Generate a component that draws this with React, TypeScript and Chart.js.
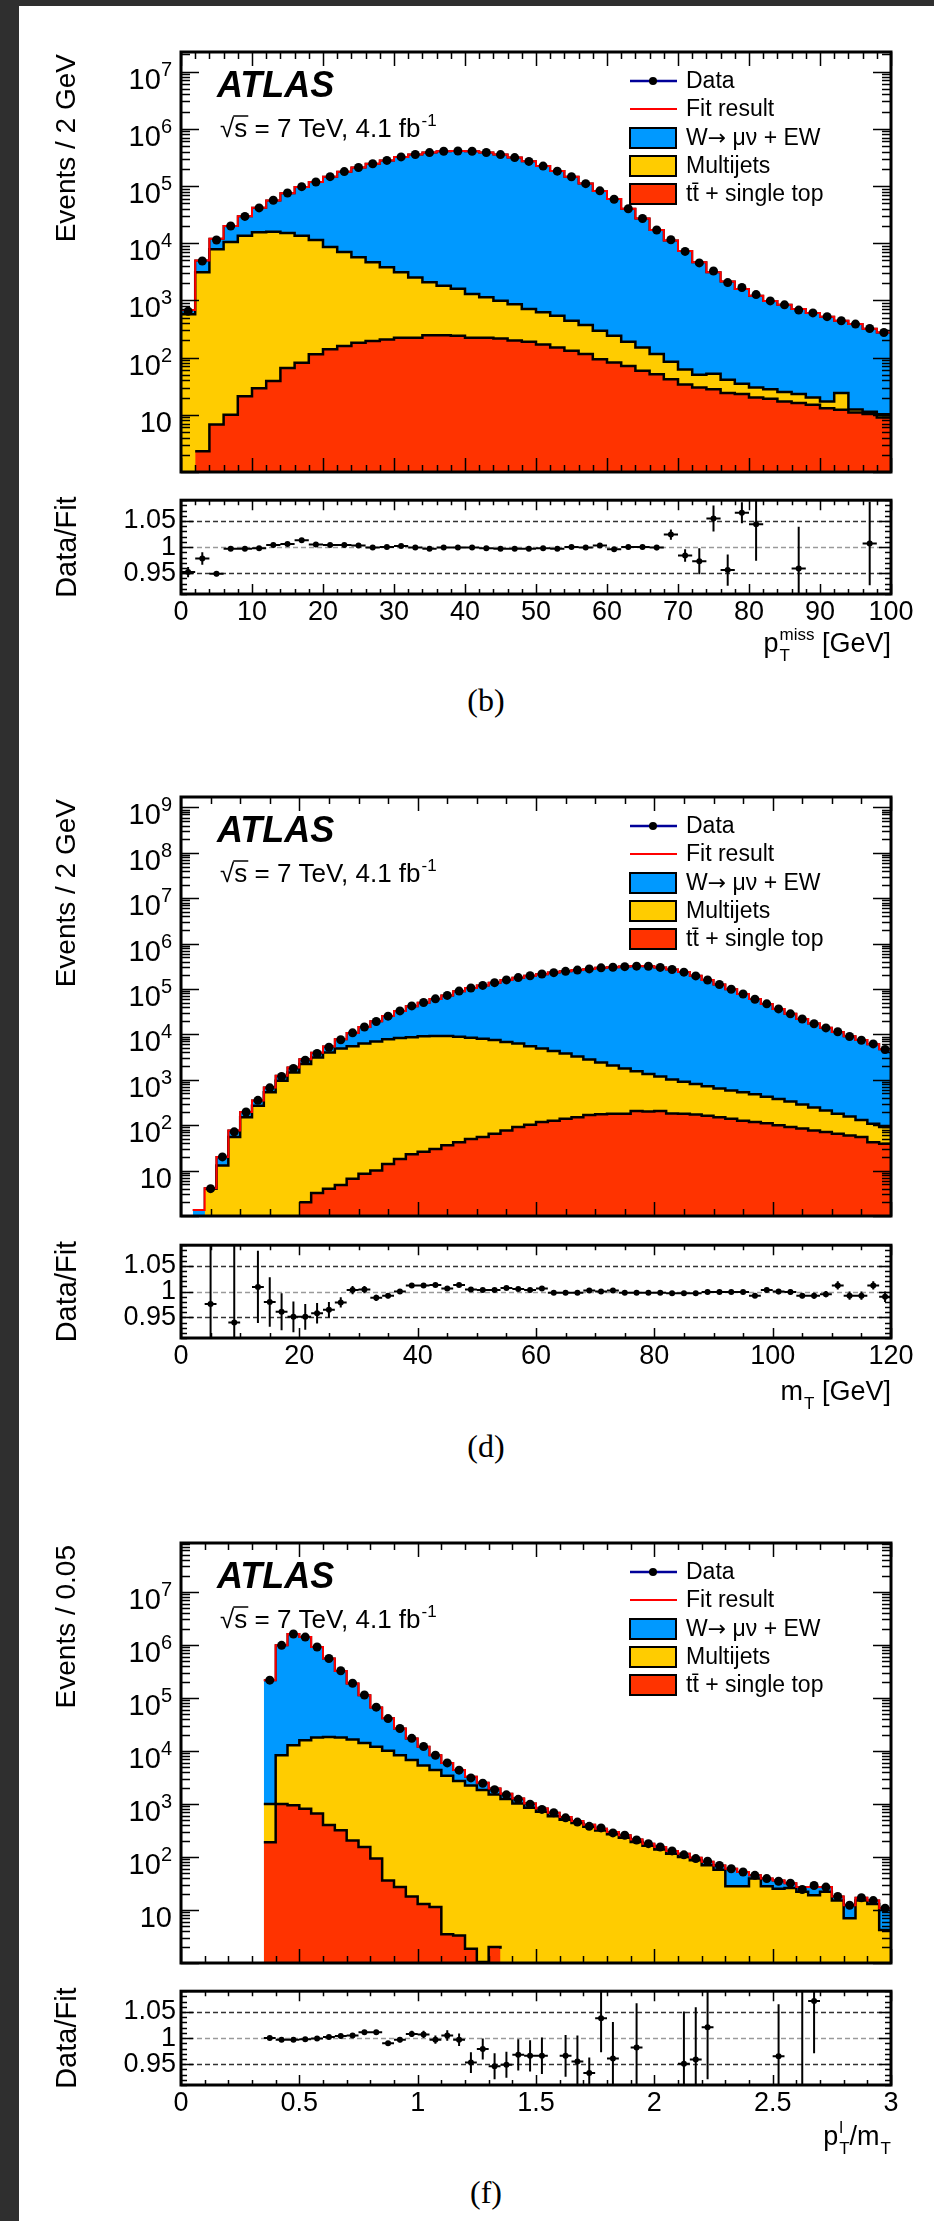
import React, { useEffect, useRef } from 'react';
import { Chart, registerables } from 'chart.js';

Chart.register(...registerables);

const SANS = '"Liberation Sans", Arial, Helvetica, sans-serif';
const SERIF = '"Liberation Serif", "Times New Roman", serif';
const W_BLUE = '#0099ff';
const MJ_YELLOW = '#ffcc00';
const TOP_RED = '#ff3300';
const FIT_RED = '#ff0000';
const DATA_NAVY = '#000099';

// ---------------- panel (b): missing transverse momentum ----------------
const bXTicks = [0, 10, 20, 30, 40, 50, 60, 70, 80, 90, 100];
const bYDecades = [1, 2, 3, 4, 5, 6, 7];
// stacked heights: total (W + multijet + top), multijet + top, top
const bTotal = [680, 5000, 12000, 20000, 29500, 41500, 56000, 75000, 96000, 117000,
  145000, 178000, 210000, 245000, 280000, 322000, 355000, 385000, 405000, 410000,
  405000, 385000, 355000, 315000, 270000, 223000, 182000, 145000, 110000, 82000,
  59000, 40000, 27000, 17000, 11200, 7300, 4650, 3100, 2140, 1580,
  1210, 980, 835, 705, 605, 520, 440, 385, 320, 275];
const bMultijetStack = [575, 3100, 7800, 10500, 13500, 15500, 15800, 15000, 13500, 11400,
  8600, 7000, 5700, 4650, 3800, 3100, 2520, 2070, 1810, 1590,
  1300, 1130, 985, 860, 710, 620, 540, 440, 370, 295,
  240, 190, 150, 115, 85, 62, 50, 52, 41, 35,
  30, 28, 25, 23, 20, 17, 24, 12.4, 11.3, 10.2];
const bTop = [0, 2.3, 6.8, 10, 21, 29, 39, 66, 81, 114,
  140, 160, 182, 195, 208, 222, 222, 245, 245, 240,
  222, 222, 215, 200, 190, 170, 150, 132, 115, 94,
  82, 71, 59, 51, 42, 34, 30, 28, 24, 23,
  20, 19, 17, 16, 15, 13, 12.3, 11, 10.3, 9];
const bRatio = [0.952, 0.978, 0.949, 0.997, 0.997, 0.998, 1.004, 1.006, 1.013, 1.005,
  1.004, 1.004, 1.003, 0.999, 1.000, 1.002, 0.999, 0.997, 0.999, 0.999,
  0.999, 0.998, 0.997, 0.997, 0.997, 0.998, 0.997, 1.000, 0.999, 1.003,
  0.996, 1.000, 1.000, 0.999, 1.024, 0.984, 0.973, 1.055, 0.956, 1.066,
  1.044, null, null, 0.959, null, null, null, null, 1.007, null];
const bRatioErr = [0.01, 0.012, 0.005, 0.003, 0.003, 0.002, 0.002, 0.002, 0.002, 0.002,
  0.002, 0.002, 0.002, 0.002, 0.002, 0.002, 0.002, 0.002, 0.002, 0.002,
  0.002, 0.002, 0.002, 0.002, 0.002, 0.002, 0.002, 0.002, 0.002, 0.003,
  0.003, 0.004, 0.004, 0.005, 0.01, 0.012, 0.025, 0.025, 0.03, 0.02,
  0.07, 0, 0, 0.08, 0, 0, 0, 0, 0.08, 0];

// ---------------- panel (d): transverse mass ----------------
const dXTicks = [0, 20, 40, 60, 80, 100, 120];
const dYDecades = [1, 2, 3, 4, 5, 6, 7, 8, 9];
const dTotal = [0, 1.35, 4.1, 20, 76, 195, 350, 680, 1230, 1870,
  2830, 3960, 5400, 7800, 10800, 14500, 19500, 25500, 33000, 42000,
  50000, 60000, 72000, 89000, 105000, 120000, 138000, 158000, 178000, 196000,
  213000, 230000, 246000, 262000, 277000, 293000, 302000, 312000, 320000, 318000,
  300000, 270000, 236000, 195000, 158000, 126000, 99000, 78000, 60000, 47000,
  36500, 28400, 22000, 17300, 14000, 11300, 9100, 7500, 6100, 4700];
const dMultijetStack = [0, 0, 4, 13, 55, 150, 270, 530, 950, 1450,
  2230, 3100, 4000, 4900, 5500, 6300, 7000, 7800, 8300, 8700,
  9100, 9200, 9200, 8900, 8500, 8000, 7500, 6800, 6300, 5500,
  4900, 4300, 3800, 3250, 2800, 2400, 2060, 1780, 1550, 1350,
  1180, 1020, 910, 810, 720, 645, 585, 530, 480, 425,
  380, 333, 285, 245, 210, 180, 155, 131, 108, 91];
const dTop = [0, 0, 0, 0, 0, 0, 0, 0, 0, 0,
  2, 3.2, 4, 4.8, 6.6, 8.5, 10, 14, 18, 23,
  26, 30, 36, 42, 50, 55, 65, 76, 91, 102,
  117, 126, 138, 150, 168, 175, 178, 180, 205, 200,
  205, 182, 178, 172, 162, 150, 138, 126, 117, 110,
  100, 91, 85, 76, 71, 65, 59, 55, 42, 39];
const dRatio = [null, null, 0.976, null, 0.940, null, 1.009, 0.980, 0.961, 0.951,
  0.951, 0.958, 0.965, 0.979, 1.003, 1.004, 0.988, 0.992, 1.000, 1.012,
  1.012, 1.013, 1.006, 1.013, 1.004, 1.003, 1.003, 1.007, 1.005, 1.003,
  1.006, 0.998, 0.998, 0.998, 1.002, 1.000, 1.002, 0.998, 0.998, 0.998,
  0.998, 0.997, 0.997, 0.997, 0.999, 0.999, 0.999, 0.999, 0.992, 1.003,
  1.000, 0.999, 0.992, 0.992, 0.995, 1.012, 0.992, 0.992, 1.012, 0.990];
const dRatioErr = [0, 0, 0.3, 0, 0.3, 0, 0.07, 0.048, 0.036, 0.03,
  0.025, 0.02, 0.015, 0.01, 0.008, 0.007, 0.006, 0.005, 0.004, 0.004,
  0.003, 0.003, 0.003, 0.003, 0.003, 0.003, 0.003, 0.003, 0.003, 0.003,
  0.003, 0.003, 0.003, 0.003, 0.003, 0.003, 0.003, 0.003, 0.003, 0.003,
  0.003, 0.003, 0.003, 0.003, 0.003, 0.003, 0.003, 0.004, 0.004, 0.004,
  0.005, 0.005, 0.005, 0.006, 0.006, 0.008, 0.008, 0.008, 0.008, 0.01];

// ---------------- panel (f): lepton pT over mT ----------------
const fXTicks = [0, 0.5, 1, 1.5, 2, 2.5, 3];
const fYDecades = [1, 2, 3, 4, 5, 6, 7];
const fTotal = [0, 0, 0, 0, 0, 0, 0, 215000, 980000, 1600000,
  1400000, 910000, 550000, 322000, 187000, 112000, 66000, 41000, 26500, 17100,
  12000, 8300, 5900, 4340, 3240, 2500, 1960, 1560, 1260, 1020,
  815, 680, 565, 475, 405, 340, 295, 256, 212, 178,
  154, 130, 115, 97, 81, 69, 60, 52, 45, 39,
  36, 32, 27, 27, 27, 18, 12.3, 17, 15, 10.8];
const fMultijetStack = [0, 0, 0, 0, 0, 0, 0, 1000, 8300, 12800,
  15800, 17800, 18300, 17800, 16300, 14000, 12000, 10000, 8300, 6700,
  5300, 4340, 3400, 2700, 2220, 1820, 1510, 1240, 1020, 850,
  710, 585, 500, 435, 370, 315, 268, 230, 191, 162,
  138, 115, 100, 87, 70, 57, 28, 28, 39, 28,
  25, 26, 22, 19, 22, 15, 7, 15, 13, 4.2];
const fTop = [0, 0, 0, 0, 0, 0, 0, 190, 1000, 940,
  810, 660, 400, 318, 205, 154, 93, 36, 27, 18,
  13, 11.4, 3.5, 3.3, 1.85, 1.05, 2, 1.85, 0, 0,
  0, 0, 0, 0, 0, 0, 0, 0, 0, 0,
  0, 0, 0, 0, 0, 0, 0, 0, 0, 0,
  0, 0, 0, 0, 0, 0, 0, 0, 0, 0];
const fRatio = [null, null, null, null, null, null, null, 1.000, 0.997, 0.997,
  0.998, 0.999, 1.002, 1.004, 1.005, 1.011, 1.011, 0.990, 0.997, 1.008,
  1.007, 0.997, 1.005, 0.997, 0.953, 0.979, 0.946, 0.949, 0.968, 0.966,
  0.966, null, 0.966, 0.955, 0.933, 1.038, 0.961, null, 0.982, null,
  null, null, 0.951, 0.959, 1.021, null, null, null, null, null,
  0.965, null, 0.900, 1.071, null, null, null, null, null, null];
const fRatioErr = [0, 0, 0, 0, 0, 0, 0, 0.002, 0.002, 0.002,
  0.002, 0.002, 0.002, 0.003, 0.003, 0.003, 0.004, 0.004, 0.005, 0.006,
  0.007, 0.008, 0.01, 0.012, 0.02, 0.02, 0.025, 0.025, 0.03, 0.03,
  0.035, 0, 0.04, 0.05, 0.03, 0.065, 0.07, 0, 0.085, 0,
  0, 0, 0.1, 0.1, 0.1, 0, 0, 0, 0, 0,
  0.1, 0, 0.2, 0.1, 0, 0, 0, 0, 0, 0];

const ratioYTicks = [0.95, 1, 1.05];
const legendLabels = ['Data', 'Fit result', 'W\u2192 \u03BC\u03BD + EW', 'Multijets', 'tt\u0304 + single top'];

// ---------------- layout ----------------
const CANVAS_L = 19;
const CANVAS_W = 915;
const PAD_L = 162; // frame left at page x 181
const PAD_R = 43; // frame right at page x 891
const MAIN_PAD_TOP = 40;
const RATIO_AXIS_H = 80;

type Seg = { t: string; sub?: string; sup?: string };
type Spec = {
  id: string; caption: string; captionY: number;
  mainTop: number; mainBottom: number; ratioTop: number; ratioBottom: number;
  xMin: number; xMax: number; binW: number; xMajor: number; xMinor: number; xTicks: number[];
  yMin: number; yMax: number; yDecades: number[];
  total: number[]; multi: number[]; top: number[];
  ratio: (number | null)[]; ratioErr: number[];
  yTitle: string; xTitle: Seg[]; xTitleDy: number;
};

const specs: Spec[] = [
  {
    id: 'b', caption: '(b)', captionY: 700,
    mainTop: 52, mainBottom: 472, ratioTop: 483, ratioBottom: 594,
    xMin: 0, xMax: 100, binW: 2, xMajor: 10, xMinor: 2, xTicks: bXTicks,
    yMin: 1, yMax: 2.2e7, yDecades: bYDecades,
    total: bTotal, multi: bMultijetStack, top: bTop, ratio: bRatio, ratioErr: bRatioErr,
    yTitle: 'Events / 2 GeV', xTitle: [{ t: 'p', sub: 'T', sup: 'miss' }, { t: ' [GeV]' }], xTitleDy: 58,
  },
  {
    id: 'd', caption: '(d)', captionY: 1446,
    mainTop: 797, mainBottom: 1216, ratioTop: 1228, ratioBottom: 1338,
    xMin: 0, xMax: 120, binW: 2, xMajor: 20, xMinor: 5, xTicks: dXTicks,
    yMin: 1, yMax: 1.7e9, yDecades: dYDecades,
    total: dTotal, multi: dMultijetStack, top: dTop, ratio: dRatio, ratioErr: dRatioErr,
    yTitle: 'Events / 2 GeV', xTitle: [{ t: 'm', sub: 'T' }, { t: ' [GeV]' }], xTitleDy: 62,
  },
  {
    id: 'f', caption: '(f)', captionY: 2192,
    mainTop: 1543, mainBottom: 1963, ratioTop: 1974, ratioBottom: 2085,
    xMin: 0, xMax: 3, binW: 0.05, xMajor: 0.5, xMinor: 0.1, xTicks: fXTicks,
    yMin: 1, yMax: 8.3e7, yDecades: fYDecades,
    total: fTotal, multi: fMultijetStack, top: fTop, ratio: fRatio, ratioErr: fRatioErr,
    yTitle: 'Events / 0.05', xTitle: [{ t: 'p', sub: 'T', sup: 'l' }, { t: '/m', sub: 'T' }], xTitleDy: 60,
  },
];

function makeEdges(min: number, w: number, n: number): number[] {
  const out: number[] = [];
  for (let i = 0; i <= n; i++) out.push(Math.round((min + i * w) * 1e6) / 1e6);
  return out;
}
function stepPoints(edges: number[], vals: number[]) {
  const pts = vals.map((v, i) => ({ x: edges[i], y: v }));
  pts.push({ x: edges[vals.length], y: vals[vals.length - 1] });
  return pts;
}

function drawXTicks(ctx: any, xs: any, a: any, spec: Spec, major: number, minor: number) {
  const nx = Math.round((spec.xMax - spec.xMin) / spec.xMinor);
  const per = Math.round(spec.xMajor / spec.xMinor);
  for (let i = 0; i <= nx; i++) {
    const px = Math.round(xs.getPixelForValue(spec.xMin + i * spec.xMinor)) + 0.5;
    const len = i % per === 0 ? major : minor;
    ctx.moveTo(px, a.bottom); ctx.lineTo(px, a.bottom - len);
    ctx.moveTo(px, a.top); ctx.lineTo(px, a.top + len);
  }
}

function drawRich(ctx: any, segs: Seg[], xRight: number, baseline: number, size: number) {
  const small = Math.round(size * 0.62);
  const w = (s: Seg) => {
    ctx.font = `${size}px ${SANS}`;
    const main = ctx.measureText(s.t).width;
    ctx.font = `${small}px ${SANS}`;
    const ws = Math.max(s.sub ? ctx.measureText(s.sub).width : 0, s.sup ? ctx.measureText(s.sup).width : 0);
    return main + (ws ? ws + 1 : 0);
  };
  let x = xRight - segs.reduce((acc, s) => acc + w(s), 0);
  ctx.textAlign = 'left';
  ctx.textBaseline = 'alphabetic';
  for (const s of segs) {
    ctx.font = `${size}px ${SANS}`;
    ctx.fillText(s.t, x, baseline);
    x += ctx.measureText(s.t).width;
    ctx.font = `${small}px ${SANS}`;
    let ws = 0;
    if (s.sup) { ctx.fillText(s.sup, x + 1, baseline - size * 0.45); ws = Math.max(ws, ctx.measureText(s.sup).width); }
    if (s.sub) { ctx.fillText(s.sub, x + 1, baseline + size * 0.32); ws = Math.max(ws, ctx.measureText(s.sub).width); }
    if (ws) x += ws + 1;
  }
}

function drawLegendText(ctx: any, label: string, x: number, y: number) {
  ctx.textBaseline = 'middle';
  ctx.textAlign = 'left';
  const arrow = label.indexOf('\u2192');
  if (arrow < 0) {
    ctx.font = `23px ${SANS}`;
    ctx.fillText(label, x, y);
    return;
  }
  const head = label.slice(0, arrow);
  const tail = label.slice(arrow + 1);
  ctx.font = `23px ${SANS}`;
  ctx.fillText(head, x, y);
  let cx = x + ctx.measureText(head).width;
  ctx.font = `22px "DejaVu Sans", ${SANS}`;
  ctx.fillText('\u2192', cx, y);
  cx += ctx.measureText('\u2192').width;
  ctx.font = `23px ${SANS}`;
  ctx.fillText(tail, cx, y);
}

function mainDecor(spec: Spec) {
  return {
    id: 'mainDecor' + spec.id,
    afterDatasetsDraw(chart: any) {
      const { ctx, chartArea: a } = chart;
      const xs = chart.scales.x;
      const ys = chart.scales.y;
      ctx.save();
      ctx.strokeStyle = '#000';
      ctx.lineWidth = 1.5;
      ctx.beginPath();
      drawXTicks(ctx, xs, a, spec, 14, 7);
      const e0 = Math.floor(Math.log10(spec.yMin));
      const e1 = Math.ceil(Math.log10(spec.yMax));
      for (let e = e0; e <= e1; e++) {
        for (let k = 1; k <= 9; k++) {
          const v = k * Math.pow(10, e);
          if (v < spec.yMin || v > spec.yMax) continue;
          const py = Math.round(ys.getPixelForValue(v)) + 0.5;
          const len = k === 1 ? 18 : 9;
          ctx.moveTo(a.left, py); ctx.lineTo(a.left + len, py);
          ctx.moveTo(a.right, py); ctx.lineTo(a.right - len, py);
        }
      }
      ctx.stroke();
      ctx.lineWidth = 3;
      ctx.strokeRect(a.left, a.top, a.right - a.left, a.bottom - a.top);

      // y tick labels 10^n
      ctx.fillStyle = '#000';
      ctx.textBaseline = 'alphabetic';
      ctx.textAlign = 'left';
      for (const e of spec.yDecades) {
        const py = ys.getPixelForValue(Math.pow(10, e));
        ctx.font = `29px ${SANS}`;
        const wb = ctx.measureText('10').width;
        let we = 0;
        const ex = e > 1 ? String(e) : '';
        if (ex) { ctx.font = `20px ${SANS}`; we = ctx.measureText(ex).width; }
        const xr = a.left - 9;
        const x0 = xr - wb - we;
        ctx.font = `29px ${SANS}`;
        ctx.fillText('10', x0, py + 17);
        if (ex) { ctx.font = `20px ${SANS}`; ctx.fillText(ex, x0 + wb, py + 4); }
      }

      // y title
      ctx.save();
      ctx.translate(48, a.top + 2);
      ctx.rotate(-Math.PI / 2);
      ctx.font = `28px ${SANS}`;
      ctx.textAlign = 'right';
      ctx.textBaseline = 'middle';
      ctx.fillText(spec.yTitle, 0, 0);
      ctx.restore();

      // ATLAS label
      ctx.textAlign = 'left';
      ctx.textBaseline = 'alphabetic';
      ctx.font = `italic bold 36px ${SANS}`;
      ctx.fillText('ATLAS', a.left + 36, a.top + 45);
      ctx.font = `26px ${SANS}`;
      let tx = a.left + 39;
      const tb = a.top + 85;
      ctx.fillText('\u221A', tx, tb);
      tx += ctx.measureText('\u221A').width;
      const sw = ctx.measureText('s').width;
      ctx.fillText('s', tx, tb);
      ctx.lineWidth = 1.5;
      ctx.beginPath(); ctx.moveTo(tx - 1, tb - 21); ctx.lineTo(tx + sw + 1, tb - 21); ctx.stroke();
      tx += sw;
      const rest = ' = 7 TeV, 4.1 fb';
      ctx.fillText(rest, tx, tb);
      tx += ctx.measureText(rest).width;
      ctx.font = `17px ${SANS}`;
      ctx.fillText('-1', tx + 1, tb - 11);

      // legend
      const rows = [29, 57, 86, 114, 142];
      const lx0 = a.left + 449;
      const lx1 = a.left + 495;
      const fills = [null, null, W_BLUE, MJ_YELLOW, TOP_RED];
      rows.forEach((dy, i) => {
        const cy = a.top + dy;
        if (i === 0) {
          ctx.strokeStyle = DATA_NAVY; ctx.lineWidth = 2.5;
          ctx.beginPath(); ctx.moveTo(lx0, cy); ctx.lineTo(lx1 + 1, cy); ctx.stroke();
          ctx.fillStyle = '#000';
          ctx.beginPath(); ctx.arc((lx0 + lx1) / 2, cy, 4, 0, Math.PI * 2); ctx.fill();
        } else if (i === 1) {
          ctx.strokeStyle = FIT_RED; ctx.lineWidth = 2;
          ctx.beginPath(); ctx.moveTo(lx0, cy); ctx.lineTo(lx1 + 1, cy); ctx.stroke();
        } else {
          ctx.fillStyle = fills[i] as string;
          ctx.fillRect(lx0, cy - 10, lx1 - lx0, 20);
          ctx.strokeStyle = '#000'; ctx.lineWidth = 2;
          ctx.strokeRect(lx0, cy - 10, lx1 - lx0, 20);
        }
        ctx.fillStyle = '#000';
        drawLegendText(ctx, legendLabels[i], lx1 + 10, cy + 1);
      });
      ctx.restore();
    },
  };
}

function ratioDecor(spec: Spec, edges: number[], centers: number[]) {
  return {
    id: 'ratioDecor' + spec.id,
    beforeDatasetsDraw(chart: any) {
      const { ctx, chartArea: a } = chart;
      const xs = chart.scales.x;
      const ys = chart.scales.y;
      ctx.save();
      ctx.lineWidth = 1.5;
      ctx.setLineDash([5, 3]);
      for (const v of ratioYTicks) {
        const py = Math.round(ys.getPixelForValue(v)) + 0.5;
        ctx.strokeStyle = v === 1 ? '#9a9a9a' : '#333';
        ctx.beginPath(); ctx.moveTo(a.left, py); ctx.lineTo(a.right, py); ctx.stroke();
      }
      ctx.setLineDash([]);
      ctx.beginPath(); ctx.rect(a.left, a.top, a.right - a.left, a.bottom - a.top); ctx.clip();
      ctx.strokeStyle = '#000';
      ctx.lineWidth = 2;
      ctx.beginPath();
      spec.ratio.forEach((r, i) => {
        if (r === null) return;
        const e = spec.ratioErr[i];
        const xc = xs.getPixelForValue(centers[i]);
        const yc = ys.getPixelForValue(r);
        ctx.moveTo(xs.getPixelForValue(edges[i]), yc);
        ctx.lineTo(xs.getPixelForValue(edges[i + 1]), yc);
        if (e > 0) {
          ctx.moveTo(xc, ys.getPixelForValue(r + e));
          ctx.lineTo(xc, ys.getPixelForValue(r - e));
        }
      });
      ctx.stroke();
      ctx.restore();
    },
    afterDatasetsDraw(chart: any) {
      const { ctx, chartArea: a } = chart;
      const xs = chart.scales.x;
      const ys = chart.scales.y;
      ctx.save();
      ctx.strokeStyle = '#000';
      ctx.lineWidth = 1.5;
      ctx.beginPath();
      drawXTicks(ctx, xs, a, spec, 10, 5);
      for (let i = 91; i <= 109; i++) {
        const v = i / 100;
        const py = Math.round(ys.getPixelForValue(v)) + 0.5;
        const len = i % 5 === 0 ? 12 : 6;
        ctx.moveTo(a.left, py); ctx.lineTo(a.left + len, py);
        ctx.moveTo(a.right, py); ctx.lineTo(a.right - len, py);
      }
      ctx.stroke();
      ctx.lineWidth = 3;
      ctx.strokeRect(a.left, a.top, a.right - a.left, a.bottom - a.top);
      // y title
      ctx.fillStyle = '#000';
      ctx.save();
      ctx.translate(49, (a.top + a.bottom) / 2);
      ctx.rotate(-Math.PI / 2);
      ctx.font = `29px ${SANS}`;
      ctx.textAlign = 'center';
      ctx.textBaseline = 'middle';
      ctx.fillText('Data/Fit', 0, 0);
      ctx.restore();
      // x title
      drawRich(ctx, spec.xTitle, a.right, a.bottom + spec.xTitleDy, 27);
      ctx.restore();
    },
  };
}

function MainHist({ spec }: { spec: Spec }) {
  const ref = useRef<HTMLCanvasElement>(null);
  const h = spec.mainBottom - spec.mainTop + MAIN_PAD_TOP + 4;
  useEffect(() => {
    const canvas = ref.current;
    if (!canvas) return;
    const n = spec.total.length;
    const edges = makeEdges(spec.xMin, spec.binW, n);
    const centers = edges.slice(0, n).map((e, i) => (e + edges[i + 1]) / 2);
    const dataPts = spec.total
      .map((t, i) => ({ x: centers[i], y: t * (spec.ratio[i] ?? 1) }))
      .filter((p, i) => spec.total[i] >= 2);
    const step = 'before';
    const chart = new Chart(canvas, {
      type: 'line',
      data: {
        datasets: [
          { label: 'Data', data: dataPts, showLine: false, pointRadius: 4.5, pointBackgroundColor: '#000', pointBorderWidth: 0, borderColor: '#000' },
          { label: 'Fit result', data: stepPoints(edges, spec.total), stepped: step, borderColor: FIT_RED, borderWidth: 2, pointRadius: 0, fill: false },
          { label: 'tt + single top', data: stepPoints(edges, spec.top), stepped: step, borderColor: '#000', borderWidth: 2.5, backgroundColor: TOP_RED, fill: 'start', pointRadius: 0 },
          { label: 'Multijets', data: stepPoints(edges, spec.multi), stepped: step, borderColor: '#000', borderWidth: 2.5, backgroundColor: MJ_YELLOW, fill: 'start', pointRadius: 0 },
          { label: 'W + EW', data: stepPoints(edges, spec.total), stepped: step, borderColor: '#000', borderWidth: 2, backgroundColor: W_BLUE, fill: 'start', pointRadius: 0 },
        ],
      } as any,
      options: {
        animation: false,
        responsive: false,
        devicePixelRatio: 1,
        events: [],
        layout: { padding: { top: MAIN_PAD_TOP, right: PAD_R, bottom: 4, left: PAD_L }, autoPadding: false } as any,
        plugins: { legend: { display: false }, tooltip: { enabled: false } },
        scales: {
          x: { type: 'linear', min: spec.xMin, max: spec.xMax, display: false },
          y: { type: 'logarithmic', min: spec.yMin, max: spec.yMax, display: false },
        },
      } as any,
      plugins: [mainDecor(spec)],
    });
    return () => chart.destroy();
  }, [spec]);
  return (
    <canvas ref={ref} width={CANVAS_W} height={h}
      style={{ position: 'absolute', left: CANVAS_L, top: spec.mainTop - MAIN_PAD_TOP, width: CANVAS_W, height: h }} />
  );
}

function RatioPlot({ spec }: { spec: Spec }) {
  const ref = useRef<HTMLCanvasElement>(null);
  const h = spec.ratioBottom - spec.ratioTop + 4 + RATIO_AXIS_H;
  useEffect(() => {
    const canvas = ref.current;
    if (!canvas) return;
    const n = spec.ratio.length;
    const edges = makeEdges(spec.xMin, spec.binW, n);
    const centers = edges.slice(0, n).map((e, i) => (e + edges[i + 1]) / 2);
    const pts = spec.ratio
      .map((r, i) => (r === null ? null : { x: centers[i], y: r }))
      .filter((p) => p !== null);
    const chart = new Chart(canvas, {
      type: 'scatter',
      data: { datasets: [{ label: 'Data/Fit', data: pts, pointRadius: 3, pointBackgroundColor: '#000', pointBorderWidth: 0, borderColor: '#000', showLine: false, clip: 0 }] } as any,
      options: {
        animation: false,
        responsive: false,
        devicePixelRatio: 1,
        events: [],
        layout: { padding: { top: 4, right: PAD_R, bottom: 0, left: 0 }, autoPadding: false } as any,
        plugins: { legend: { display: false }, tooltip: { enabled: false } },
        scales: {
          x: {
            type: 'linear', position: 'bottom', min: spec.xMin, max: spec.xMax,
            afterFit: (s: any) => { s.height = RATIO_AXIS_H; },
            afterBuildTicks: (s: any) => { s.ticks = spec.xTicks.map((v) => ({ value: v })); },
            ticks: { font: { family: SANS, size: 27 }, color: '#000', padding: 2, maxRotation: 0, minRotation: 0, autoSkip: false, callback: (v: any) => String(v) },
            grid: { display: false, drawTicks: false },
            border: { display: false },
          },
          y: {
            type: 'linear', position: 'left', min: 0.91, max: 1.09,
            afterFit: (s: any) => { s.width = PAD_L; },
            afterBuildTicks: (s: any) => { s.ticks = ratioYTicks.map((v) => ({ value: v })); },
            ticks: { font: { family: SANS, size: 27 }, color: '#000', padding: 5, callback: (v: any) => (v === 1 ? '1' : Number(v).toFixed(2)) },
            grid: { display: false, drawTicks: false },
            border: { display: false },
          },
        },
      } as any,
      plugins: [ratioDecor(spec, edges, centers)],
    });
    return () => chart.destroy();
  }, [spec]);
  return (
    <canvas ref={ref} width={CANVAS_W} height={h}
      style={{ position: 'absolute', left: CANVAS_L, top: spec.ratioTop - 4, width: CANVAS_W, height: h }} />
  );
}

export default function App() {
  return (
    <div style={{ position: 'absolute', left: 0, top: 0, width: 934, height: 2221, background: '#2f2f2f', overflow: 'hidden' }}>
      <div style={{ position: 'absolute', left: 19, top: 6, width: 915, height: 2215, background: '#ffffff' }} />
      {specs.map((s) => (
        <React.Fragment key={s.id}>
          <MainHist spec={s} />
          <RatioPlot spec={s} />
          <div style={{ position: 'absolute', left: 436, width: 100, top: s.captionY - 20, height: 40, lineHeight: '40px', textAlign: 'center', fontFamily: SERIF, fontSize: 32, color: '#000' }}>
            {s.caption}
          </div>
        </React.Fragment>
      ))}
    </div>
  );
}
